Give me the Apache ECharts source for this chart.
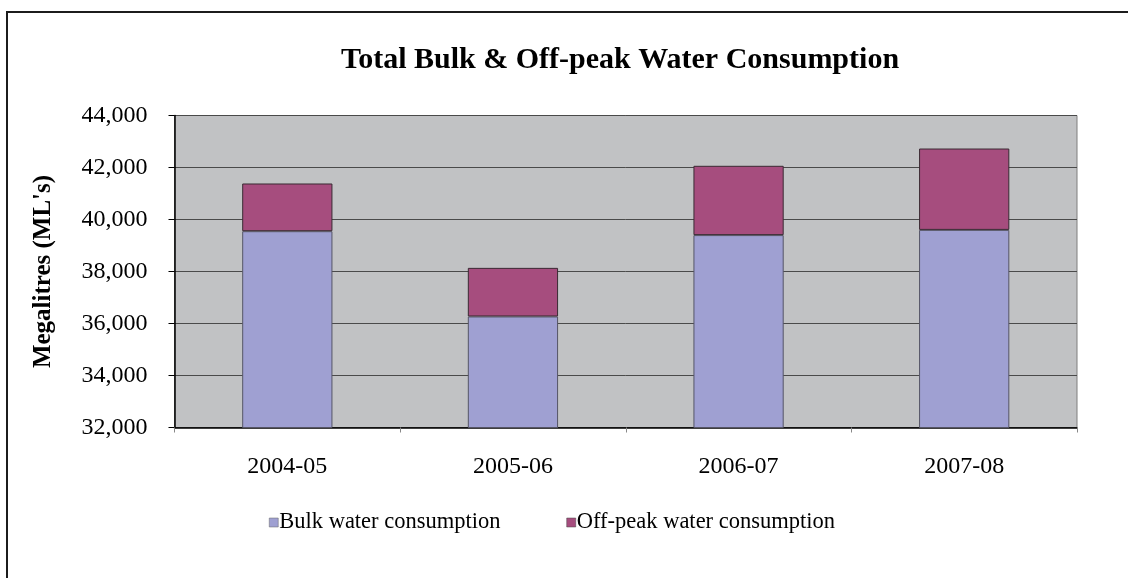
<!DOCTYPE html>
<html>
<head>
<meta charset="utf-8">
<script src="https://cdn.jsdelivr.net/npm/echarts@6/dist/echarts.min.js"></script>
<style>
  html, body { margin: 0; padding: 0; background: #ffffff; }
  #chart { width: 1128px; height: 578px; }
</style>
</head>
<body>
<div id="chart"></div>
<script>
// Financial years on the category axis
const years = ['2004-05', '2005-06', '2006-07', '2007-08'];
// Megalitres per year
const bulkWater = [39550, 36270, 39400, 39600];
const offPeakWater = [1835, 1870, 2665, 3130];
// Value axis range and step
const yMin = 32000;
const yMax = 44000;
const yStep = 2000;

const serif = '"Liberation Serif", "Times New Roman", serif';

const chart = echarts.init(document.getElementById('chart'), null, { renderer: 'canvas' });

chart.setOption({
  backgroundColor: '#ffffff',
  animation: false,
  graphic: [{
    type: 'rect',
    shape: { x: 7, y: 12, width: 1300, height: 800 },
    style: { fill: 'none', stroke: '#1c1c1c', lineWidth: 2 },
    silent: true
  }],
  title: {
    text: 'Total Bulk & Off-peak Water Consumption',
    left: 615,
    textAlign: 'center',
    top: 40,
    textStyle: { fontFamily: serif, fontWeight: 'bold', fontSize: 30, color: '#000' }
  },
  legend: {
    top: 506,
    left: 264,
    itemWidth: 9,
    itemHeight: 9,
    itemGap: 66,
    icon: 'rect',
    data: [
      { name: 'Bulk water consumption', itemStyle: { borderColor: '#666', borderWidth: 0.5 } },
      { name: 'Off-peak water consumption', itemStyle: { borderColor: '#444', borderWidth: 0.5 } }
    ],
    textStyle: { fontFamily: serif, fontSize: 22.5, color: '#000', padding: [0, 0, 0, -4] }
  },
  grid: {
    left: 174.5,
    right: 51,
    top: 115.5,
    bottom: 150.5,
    show: true,
    backgroundColor: '#c1c2c4',
    borderColor: '#7f7f7f',
    borderWidth: 1
  },
  xAxis: {
    type: 'category',
    data: years,
    axisLine: { lineStyle: { color: '#000', width: 1.5 } },
    axisTick: { show: true, length: 5, lineStyle: { color: '#888' } },
    axisLabel: { fontFamily: serif, fontSize: 24, color: '#000', margin: 27 }
  },
  yAxis: {
    type: 'value',
    min: yMin,
    max: yMax,
    interval: yStep,
    name: "Megalitres (ML's)",
    nameLocation: 'middle',
    nameGap: 118,
    nameTextStyle: { fontFamily: serif, fontWeight: 'bold', fontSize: 25, color: '#000' },
    axisLine: { show: true, lineStyle: { color: '#000', width: 1.5 } },
    axisTick: { show: true, inside: false, length: 6, lineStyle: { color: '#000' } },
    axisLabel: {
      fontFamily: serif, fontSize: 24, color: '#000', margin: 27,
      formatter: v => v.toLocaleString('en-US')
    },
    splitLine: { show: true, lineStyle: { color: '#4a4a4a', width: 1 } }
  },
  series: [
    {
      name: 'Bulk water consumption',
      type: 'bar',
      stack: 'total',
      barWidth: '40%',
      data: bulkWater,
      itemStyle: { color: '#9fa0d2', borderColor: '#555566', borderWidth: 1 }
    },
    {
      name: 'Off-peak water consumption',
      type: 'bar',
      stack: 'total',
      barWidth: '40%',
      data: offPeakWater,
      itemStyle: { color: '#a64d7e', borderColor: '#3a2a33', borderWidth: 1 }
    }
  ]
});
</script>
</body>
</html>
